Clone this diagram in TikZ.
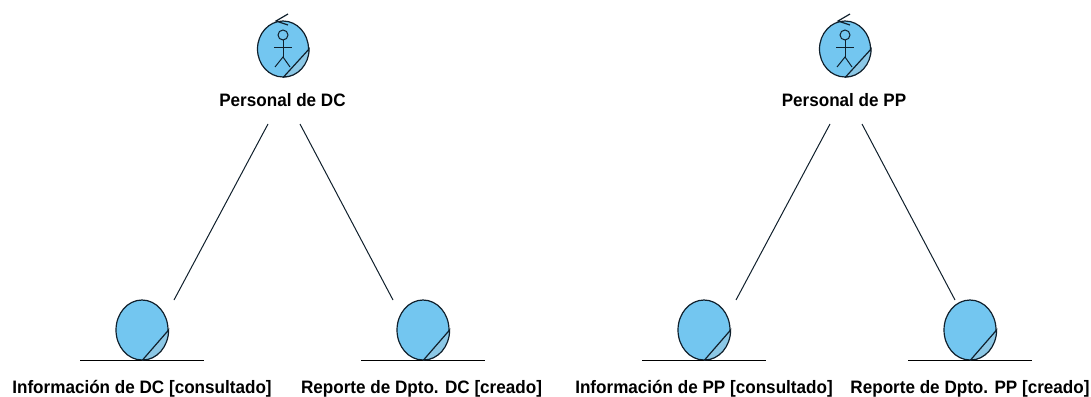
\documentclass[tikz,border=0pt]{standalone}
\usepackage{fontspec}
\usepackage{tikz}
\usetikzlibrary{shapes.geometric}
\setmainfont[FakeStretch=0.95]{Liberation Sans}
\definecolor{umlBlue}{HTML}{73C6F0}
\definecolor{umlShade}{HTML}{8CC8E6}
\definecolor{umlLine}{HTML}{10202C}
\tikzset{
  actorShape/.style={ellipse,draw=umlLine,fill=umlBlue,line width=1.2pt,minimum width=51pt,minimum height=56pt,inner sep=0pt},
  entityShape/.style={ellipse,draw=umlLine,fill=umlBlue,line width=1.2pt,minimum width=52pt,minimum height=60pt,inner sep=0pt},
  umlLabel/.style={font=\fontsize{18}{20}\selectfont\bfseries,inner sep=0pt,text=black,anchor=base},
  assoc/.style={draw=umlLine,line width=1pt},
  baseLine/.style={draw=black,line width=1.2pt},
}
\newcommand{\umlEntity}[1]{
  \draw[baseLine] ([xshift=-62pt]#1.south) -- ([xshift=62pt]#1.south);
  \draw[draw=umlLine,line width=1.2pt,fill=umlShade] (#1.south) -- (#1.east) arc[start angle=0,end angle=-90,x radius=26pt,y radius=30pt];
}
\newcommand{\umlActor}[1]{
  \draw[draw=umlLine,line width=1.2pt,fill=umlShade] (#1.south) -- (#1.east) arc[start angle=0,end angle=-90,x radius=25.5pt,y radius=28pt];
  \draw[umlLine,line width=1.2pt] ([xshift=5pt,yshift=35pt]#1.center) -- ([xshift=-7pt,yshift=28pt]#1.center) -- ([xshift=5pt,yshift=24pt]#1.center);
  \draw[umlLine,line width=1pt] ([yshift=14pt]#1.center) circle[radius=5pt];
  \draw[umlLine,line width=1pt] ([yshift=9pt]#1.center) -- ([yshift=-8pt]#1.center);
  \draw[umlLine,line width=1pt] ([xshift=-9pt,yshift=1pt]#1.center) -- ([xshift=9pt,yshift=1pt]#1.center);
  \draw[umlLine,line width=1pt] ([xshift=-8pt,yshift=-18pt]#1.center) -- ([yshift=-8pt]#1.center) -- ([xshift=7pt,yshift=-18pt]#1.center);
}

\begin{document}
\begin{tikzpicture}[x=1pt,y=-1pt]
  \useasboundingbox (0,0) rectangle (1091,396);
  % actors
  \node[actorShape] (dcActor) at (283,49) {};
  \node[actorShape] (ppActor) at (845,49) {};
  \node[umlLabel] (dcLabel) at (282.5,106) {Personal de DC};
  \node[umlLabel] (ppLabel) at (844,106) {Personal de PP};
  \umlActor{dcActor}
  \umlActor{ppActor}
  % entities
  \node[entityShape] (dcInfo) at (142,330) {};
  \node[entityShape] (dcReport) at (423,330) {};
  \node[entityShape] (ppInfo) at (704,330) {};
  \node[entityShape] (ppReport) at (970,330) {};
  \umlEntity{dcInfo}
  \umlEntity{dcReport}
  \umlEntity{ppInfo}
  \umlEntity{ppReport}
  \node[umlLabel] (dcInfoLabel) at (142,393) {Información de DC [consultado]};
  \node[umlLabel] (dcReportLabel) at (421.5,393) {Reporte de Dpto. DC [creado]};
  \node[umlLabel] (ppInfoLabel) at (704,393) {Información de PP [consultado]};
  \node[umlLabel] (ppReportLabel) at (970,393) {Reporte de Dpto. PP [creado]};
  % free ends of the associations
  \coordinate (dcOutL) at (268,124);
  \coordinate (dcOutR) at (300,124);
  \coordinate (ppOutL) at (830,124);
  \coordinate (ppOutR) at (862,124);
  \coordinate (dcInfoIn) at (174,300);
  \coordinate (dcReportIn) at (393,300);
  \coordinate (ppInfoIn) at (736,300);
  \coordinate (ppReportIn) at (955,300);
  \draw[assoc] (dcOutL) -- (dcInfoIn);
  \draw[assoc] (dcOutR) -- (dcReportIn);
  \draw[assoc] (ppOutL) -- (ppInfoIn);
  \draw[assoc] (ppOutR) -- (ppReportIn);
\end{tikzpicture}
\end{document}
